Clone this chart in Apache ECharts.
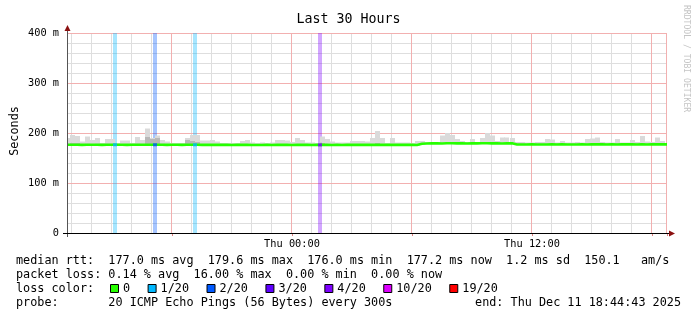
<!DOCTYPE html>
<html><head><meta charset="utf-8">
<script src="https://cdn.jsdelivr.net/npm/echarts@6/dist/echarts.min.js"></script>
<style>html,body{margin:0;padding:0;background:#fff}#c{width:697px;height:321px}</style>
</head><body><div id="c"></div>
<script>
// ---------------- data ----------------
const titleText = 'Last 30 Hours';
const yAxisTitle = 'Seconds';
const yTickValues = [0, 100, 200, 300, 400];
const yTickLabels = ['0', '100 m', '200 m', '300 m', '400 m'];
const yGridValues = [0, 20, 40, 60, 80, 100, 120, 140, 160, 180, 200, 220, 240, 260, 280, 300, 320, 340, 360, 380, 400];
const xTickLabels = ['Thu 00:00', 'Thu 12:00'];

// 15-minute slots, Wed 12:45 .. Thu 18:45
const slotLabels = [];
for (let t = 765; t <= 765 + 120 * 15; t += 15) {
  const day = t >= 1440 ? 'Thu' : 'Wed';
  const mm = t % 1440;
  slotLabels.push(day + ' ' + String(Math.floor(mm / 60)).padStart(2, '0') + ':' + String(mm % 60).padStart(2, '0'));
}

// median rtt (ms)
const medianRtt = [
  176.6,176.4,176.5,176.3,176.4,176.5,176.4,176.3,176.5,176.4,
  176.5,176.4,176.3,176.4,176.5,176.6,176.5,176.4,176.5,176.4,
  176.3,176.4,176.4,176.3,176.4,176.5,176.4,176.3,176.2,176.3,
  176.2,176.3,176.2,176.1,176.2,176.3,176.2,176.1,176.0,176.1,
  176.2,176.1,176.2,176.3,176.2,176.1,176.2,176.3,176.2,176.1,
  176.2,176.3,176.2,176.1,176.2,176.1,176.2,176.3,176.2,176.3,
  176.2,176.3,176.4,176.3,176.2,176.3,176.2,176.3,176.4,176.3,
  176.0,178.4,179.0,179.2,179.3,179.1,179.4,179.6,179.3,179.2,
  179.1,179.3,179.2,179.4,179.5,179.3,179.2,179.1,179.2,179.3,
  177.1,177.0,177.1,177.2,177.1,177.0,177.1,177.2,177.1,177.2,
  177.1,177.0,177.1,177.2,177.1,177.2,177.3,177.2,177.1,177.2,
  177.1,177.2,177.3,177.2,177.1,177.2,177.1,177.2,177.3,177.2,
  177.2
];
// lowest ping of each slot (ms)
const pingMin = [
  175.6,175.5,175.6,175.4,175.5,175.6,175.5,175.4,175.6,175.5,
  175.6,175.5,175.4,175.5,175.6,175.7,175.6,175.5,175.6,175.5,
  175.4,175.5,175.5,175.4,175.5,175.6,175.5,175.4,175.3,175.4,
  175.3,175.4,175.3,175.2,175.3,175.4,175.3,175.2,175.1,175.2,
  175.3,175.2,175.3,175.4,175.3,175.2,175.3,175.4,175.3,175.2,
  175.3,175.4,175.3,175.2,175.3,175.2,175.3,175.4,175.3,175.4,
  175.3,175.4,175.5,175.4,175.3,175.4,175.3,175.4,175.5,175.4,
  175.1,177.5,178.1,178.3,178.4,178.2,178.5,178.7,178.4,178.3,
  178.2,178.4,178.3,178.5,178.6,178.4,178.3,178.2,178.3,178.4,
  176.2,176.1,176.2,176.3,176.2,176.1,176.2,176.3,176.2,176.3,
  176.2,176.1,176.2,176.3,176.2,176.3,176.4,176.3,176.2,176.3,
  176.2,176.3,176.4,176.3,176.2,176.3,176.2,176.3,176.4,176.3,
  176.3
];
// inner (dense) smoke top (ms)
const pingMid = [
  179,181,180,178,179,178,179,178,179,179,
  178,178,178,178,179,178,192,188,190,179,
  178,178,178,178,186,184,182,178,178,178,
  178,178,178,178,178,178,178,178,178,178,
  178,178,178,178,178,178,178,178,178,178,
  178,181,178,178,178,178,178,178,178,178,
  178,178,180,178,178,178,178,178,178,178,
  178,181,181,181,181,181,183,181,181,181,
  181,181,181,181,183,181,181,181,181,181,
  179,179,179,179,179,179,179,179,179,179,
  179,179,179,179,179,179,179,179,179,179,
  179,179,179,179,179,181,179,179,179,179,
  179
];
// highest ping of each slot (ms)
const pingMax = [
  190,196,194,183,193,186,190,180,188,188,
  180,185,185,180,192,186,209,190,195,186,
  183,180,179,179,190,196,196,185,185,186,
  183,179,179,179,180,184,186,181,179,181,
  179,181,186,186,185,182,190,186,181,181,
  180,193,188,183,181,181,181,184,184,184,
  183,190,204,190,180,190,181,181,181,180,
  184,184,182,182,182,195,200,196,188,184,
  182,188,182,190,200,195,184,191,191,190,
  182,182,181,181,182,182,188,187,181,184,
  181,181,182,181,188,189,191,182,181,181,
  188,181,181,186,182,194,183,182,191,184,
  180
];

// packet loss events (slot end, pings lost out of 20)
const lossSlots = ['Wed 15:15', 'Wed 17:15', 'Wed 19:15', 'Thu 01:30'];
const lossCounts = [1, 2, 1, 4];

// loss colour legend
const lossLegendLabels = ['0', '1/20', '2/20', '3/20', '4/20', '10/20', '19/20'];
const lossLegendCounts = [0, 1, 2, 3, 4, 10, 19];
const lossLegendColors = ['#26ff00', '#00b8ff', '#0059ff', '#5e00ff', '#7e00ff', '#dd00ff', '#ff0000'];

const statLines = [
  'median rtt:  177.0 ms avg  179.6 ms max  176.0 ms min  177.2 ms now  1.2 ms sd  150.1   am/s',
  'packet loss: 0.14 % avg  16.00 % max  0.00 % min  0.00 % now'
];
const probeText = 'probe:       20 ICMP Echo Pings (56 Bytes) every 300s';
const endText = 'end: Thu Dec 11 18:44:43 2025';
const watermark = 'RRDTOOL / TOBI OETIKER';

// ---------------- layout / style ----------------
const FONT = "'DejaVu Sans Mono', monospace";
const G = { left: 67, right: 30, top: 33, bottom: 88 };
const W = 697, H = 321;
const plotR = W - G.right, plotB = H - G.bottom;
const gridGray = '#dedede', gridRed = '#f2b0b0';

function lossColor(n) {
  let c = lossLegendColors[0];
  for (let k = 0; k < lossLegendCounts.length; k++) if (n >= lossLegendCounts[k]) c = lossLegendColors[k];
  return c;
}
function hexA(hex, a) {
  const r = parseInt(hex.slice(1, 3), 16), g = parseInt(hex.slice(3, 5), 16), b = parseInt(hex.slice(5, 7), 16);
  return `rgba(${r},${g},${b},${a})`;
}

const isHour = v => v.endsWith(':00');
const isSix = (i, v) => (v.endsWith(':00') && parseInt(v.slice(4, 6), 10) % 6 === 0) || i === slotLabels.length - 1;

const vGridData = [];
slotLabels.forEach((s, i) => { if (isHour(s) || i === slotLabels.length - 1) vGridData.push([i, isSix(i, s) ? 1 : 0]); });
const hGridData = yGridValues.map(v => [0, v, yTickValues.includes(v) ? 1 : 0]);

const smokeData = slotLabels.map((s, i) => [i, pingMin[i], pingMid[i], pingMax[i]]);
const lossData = [];
const lossSeg = [];
slotLabels.forEach((s, i) => {
  const k = lossSlots.indexOf(s);
  if (k >= 0) {
    lossData.push([i, lossCounts[k]]);
    lossSeg.push({ value: [i, medianRtt[i]], itemStyle: { color: lossColor(lossCounts[k]) } });
  }
});

function renderVGrid(params, api) {
  const p0 = api.coord([api.value(0), 0]);
  const p1 = api.coord([api.value(0), 400]);
  const x = Math.round(p0[0]) - 0.5;
  return { type: 'line', shape: { x1: x, y1: p0[1], x2: x, y2: p1[1] },
    style: { stroke: api.value(1) ? gridRed : gridGray, lineWidth: 1 }, z2: api.value(1) ? 2 : 1 };
}
function renderHGrid(params, api) {
  const p = api.coord([0, api.value(1)]);
  const cs = params.coordSys;
  const y = Math.round(p[1]) + 0.5;
  return { type: 'line', shape: { x1: cs.x, y1: y, x2: cs.x + cs.width, y2: y },
    style: { stroke: api.value(2) ? gridRed : gridGray, lineWidth: 1 }, z2: api.value(2) ? 2 : 0 };
}
function renderSmoke(params, api) {
  const i = api.value(0);
  const w = api.size([1, 0])[0];
  const cs = params.coordSys;
  const pLo = api.coord([i, api.value(1)]);
  const pMid = api.coord([i, Math.max(api.value(1), api.value(2))]);
  const pHi = api.coord([i, api.value(3)]);
  const x0 = Math.max(Math.round(cs.x) + 1, Math.round(pLo[0] - w / 2));
  const xr = Math.min(Math.round(cs.x + cs.width), Math.round(pLo[0] + w / 2));
  const ww = xr - x0;
  return { type: 'group', children: [
    { type: 'rect', shape: { x: x0, y: pMid[1], width: ww, height: pLo[1] - pMid[1] }, style: { fill: '#b8b8b8' } },
    { type: 'rect', shape: { x: x0, y: pHi[1], width: ww, height: Math.max(0, pMid[1] - pHi[1]) }, style: { fill: '#dadada' } }
  ] };
}
function renderLoss(params, api) {
  const i = api.value(0);
  const n = api.value(1);
  const w = api.size([1, 0])[0];
  const pTop = api.coord([i, 400]);
  const pBot = api.coord([i, 0]);
  const x1 = Math.round(pTop[0]);
  const x0 = Math.round(pTop[0] - w * 0.8);
  return { type: 'rect', shape: { x: x0, y: pTop[1], width: x1 - x0, height: pBot[1] - pTop[1] },
    style: { fill: hexA(lossColor(n), 0.35) } };
}

// ---------------- graphics (text, legend, arrows) ----------------
const graphics = [];
const legendFont = '11.8px ' + FONT;
const charW = 11.8 * 0.602;
statLines.forEach((t, k) => graphics.push({ type: 'text', x: 16, y: 261 + k * 14.3, style: { text: t, font: legendFont, fill: '#000', verticalAlign: 'middle' } }));
graphics.push({ type: 'text', x: 16, y: 289, style: { text: 'loss color:', font: legendFont, fill: '#000', verticalAlign: 'middle' } });
let lx = 110;
lossLegendLabels.forEach((lab, k) => {
  graphics.push({ type: 'rect', shape: { x: lx + 0.5, y: 284.5, width: 8, height: 8 }, style: { fill: lossLegendColors[k], stroke: '#000', lineWidth: 1 } });
  graphics.push({ type: 'text', x: lx + 13, y: 289, style: { text: lab, font: legendFont, fill: '#000', verticalAlign: 'middle' } });
  lx += 13 + lab.length * charW + 17.5;
});
graphics.push({ type: 'text', x: 16, y: 303, style: { text: probeText, font: legendFont, fill: '#000', verticalAlign: 'middle' } });
graphics.push({ type: 'text', x: 681, y: 303, style: { text: endText, font: legendFont, fill: '#000', align: 'right', verticalAlign: 'middle' } });
graphics.push({ type: 'text', x: 686, y: 5, rotation: -Math.PI / 2, style: { text: watermark, font: '8.1px ' + FONT, fill: '#c4c4c4', verticalAlign: 'middle' } });
graphics.push({ type: 'text', x: 15, y: 131, rotation: Math.PI / 2, style: { text: yAxisTitle, font: legendFont, fill: '#000', align: 'center', verticalAlign: 'middle' } });
// axis lines, extensions and arrows
graphics.push({ type: 'line', z: 100, shape: { x1: G.left + 0.5, y1: plotB + 4, x2: G.left + 0.5, y2: G.top - 5 }, style: { stroke: '#555', lineWidth: 1 } });
graphics.push({ type: 'line', z: 100, shape: { x1: G.left - 4, y1: plotB + 0.5, x2: plotR + 4, y2: plotB + 0.5 }, style: { stroke: '#000', lineWidth: 1 } });
graphics.push({ type: 'polygon', z: 101, shape: { points: [[G.left + 0.5, G.top - 8], [G.left - 2.5, G.top - 2], [G.left + 3.5, G.top - 2]] }, style: { fill: '#8b1010' } });
graphics.push({ type: 'polygon', z: 101, shape: { points: [[plotR + 8, plotB + 0.5], [plotR + 2, plotB - 2.5], [plotR + 2, plotB + 3.5]] }, style: { fill: '#8b1010' } });

// ---------------- chart ----------------
const chart = echarts.init(document.getElementById('c'), null, { renderer: 'canvas' });
chart.setOption({
  animation: false,
  backgroundColor: '#fff',
  title: { text: titleText, left: 'center', top: 8, textStyle: { fontFamily: FONT, fontSize: 13.3, fontWeight: 'normal', color: '#000' } },
  grid: { left: G.left, right: G.right, top: G.top, bottom: G.bottom, containLabel: false, outerBoundsMode: 'none' },
  xAxis: [
    { type: 'category', data: slotLabels, boundaryGap: false, position: 'bottom',
      axisLine: { show: false },
      axisTick: { show: true, interval: (i, v) => isSix(i, v), length: 3, lineStyle: { color: '#e08080' } },
      axisLabel: { interval: 0, margin: 6, fontFamily: FONT, fontSize: 10.3, color: '#000',
        formatter: v => xTickLabels.includes(v) ? v : '' },
      splitLine: { show: false } }
  ],
  yAxis: [
    { type: 'value', min: 0, max: 400, interval: 20, position: 'left',
      axisLine: { show: false }, axisTick: { show: false },
      axisLabel: { margin: 8, fontFamily: FONT, fontSize: 10.3, color: '#000',
        formatter: v => { const k = yTickValues.indexOf(v); return k < 0 ? '' : yTickLabels[k]; } },
      splitLine: { show: false } }
  ],
  series: [
    { type: 'custom', name: 'hgrid', data: hGridData, encode: { x: 0, y: 1 }, renderItem: renderHGrid, silent: true, z: 1, clip: false },
    { type: 'custom', name: 'vgrid', data: vGridData, encode: { x: 0 }, renderItem: renderVGrid, silent: true, z: 1 },
    { type: 'custom', name: 'loss', data: lossData, encode: { x: 0 }, renderItem: renderLoss, silent: true, z: 3 },
    { type: 'custom', name: 'smoke', data: smokeData, encode: { x: 0, y: [1, 2, 3] }, renderItem: renderSmoke, silent: true, z: 4 },
    { type: 'line', name: 'median', data: medianRtt, symbol: 'none',
      lineStyle: { color: '#26ff00', width: 2.6 }, z: 6 },
    { type: 'scatter', name: 'lossmedian', data: lossSeg, symbol: 'rect',
      symbolSize: [4, 3], symbolOffset: [-2, 0], z: 7 }
  ],
  graphic: graphics
});
</script></body></html>
